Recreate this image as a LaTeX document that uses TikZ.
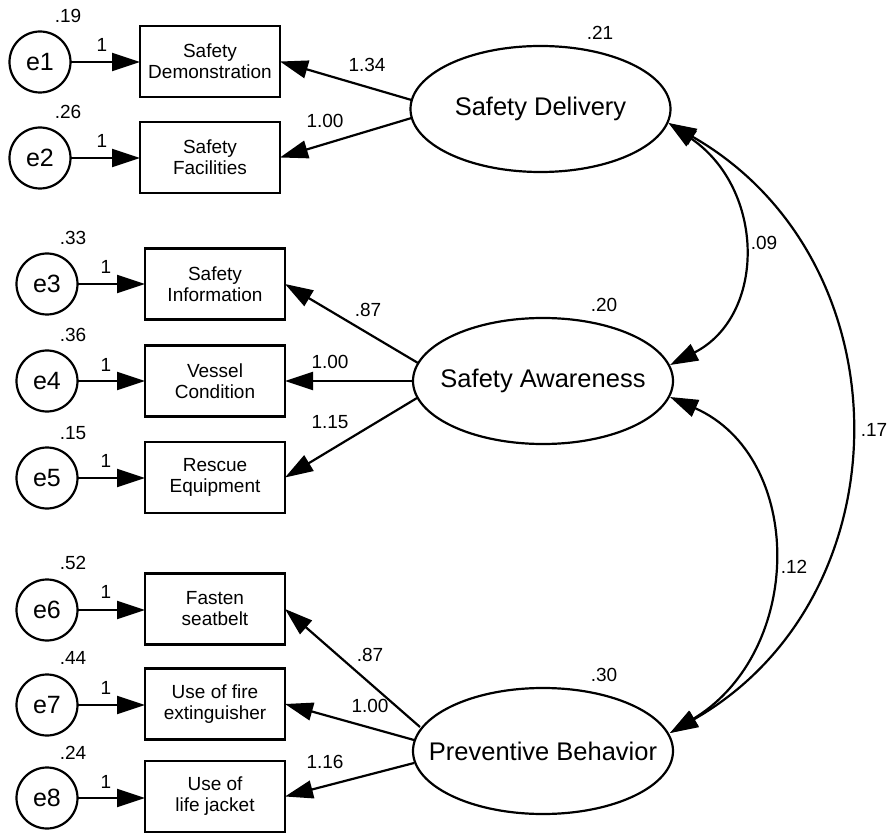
\documentclass[tikz,border=0pt]{standalone}
\usepackage{fontspec}
\setmainfont{Liberation Sans}
\usetikzlibrary{shapes.geometric,arrows.meta,calc}
\begin{document}
\begin{tikzpicture}[x=1pt,y=-1pt,
  every node/.style={inner sep=0pt, outer sep=0pt},
  obs/.style={draw, line width=2.4pt, minimum width=140pt, minimum height=71pt, align=center, font=\fontsize{19}{21}\selectfont},
  err/.style={draw, circle, line width=2.2pt, minimum size=61pt, font=\fontsize{25}{28}\selectfont},
  lat/.style={draw, ellipse, line width=2.2pt, minimum width=260pt, minimum height=126pt},
  latfont/.style={font=\fontsize{25.5}{28}\selectfont},
  num/.style={font=\fontsize{19}{21}\selectfont},
  tipT/.tip={Triangle[length=28pt,width=18pt]},
  arr/.style={line width=2.2pt, -tipT},
  cov/.style={line width=2.2pt, tipT-tipT}
]
\useasboundingbox (0,0) rectangle (892,834);

% latent variables
\node[lat, label={[latfont]center:Safety Delivery}] (SD) at (540.5,109) {};
\node[lat, label={[latfont]center:Safety Awareness}] (SA) at (543,381) {};
\node[lat, label={[latfont]center:Preventive Behavior}] (PB) at (543,751) {};

% observed variables
\node[obs] (b1) at (210,61.5) {Safety\\Demonstration};
\node[obs] (b2) at (210,157.5) {Safety\\Facilities};
\node[obs] (b3) at (215,284) {Safety\\Information};
\node[obs] (b4) at (215,381) {Vessel\\Condition};
\node[obs] (b5) at (215,477.5) {Rescue\\Equipment};
\node[obs] (b6) at (215,609) {Fasten\\seatbelt};
\node[obs] (b7) at (215,704) {Use of fire\\extinguisher};
\node[obs] (b8) at (215,796.5) {Use of\\life jacket};

% error terms
\node[err] (e1) at (40,62) {e1};
\node[err] (e2) at (40,158) {e2};
\node[err] (e3) at (47,284) {e3};
\node[err] (e4) at (47,381) {e4};
\node[err] (e5) at (47,478) {e5};
\node[err] (e6) at (47,610) {e6};
\node[err] (e7) at (47,705) {e7};
\node[err] (e8) at (47,798) {e8};

% error arrows
\foreach \e/\b in {e1/b1,e2/b2,e3/b3,e4/b4,e5/b5,e6/b6,e7/b7,e8/b8}
  \draw[arr] (\e.east) -- (\e.east -| \b.west);

% error variances and fixed paths
\node[num] (v1) at (68,16) {.19};
\node[num] (v2) at (68,112) {.26};
\node[num] (v3) at (73,238) {.33};
\node[num] (v4) at (73,335) {.36};
\node[num] (v5) at (73,433) {.15};
\node[num] (v6) at (73,563) {.52};
\node[num] (v7) at (73,658) {.44};
\node[num] (v8) at (73,753) {.24};
\node[num] (f1) at (102,45) {1};
\node[num] (f2) at (102,141) {1};
\node[num] (f3) at (106,267) {1};
\node[num] (f4) at (106,365) {1};
\node[num] (f5) at (106,461) {1};
\node[num] (f6) at (106,592) {1};
\node[num] (f7) at (106,688) {1};
\node[num] (f8) at (106,782) {1};

% latent variances
\node[num] (r1) at (600,33) {.21};
\node[num] (r2) at (604,305) {.20};
\node[num] (r3) at (604,675) {.30};

% loadings
\draw[arr] ($(SD.west)+(1,-9)$) -- (b1.east);
\draw[arr] ($(SD.west)+(1,9)$) -- (b2.east);
\draw[arr] ($(SA.west)+(5,-18)$) -- (b3.east);
\draw[arr] (SA.west) -- (b4.east);
\draw[arr] ($(SA.west)+(4,17)$) -- (b5.east);
\draw[arr] ($(PB.west)+(7,-24)$) -- (b6.east);
\draw[arr] ($(PB.west)+(1,-11)$) -- (b7.east);
\draw[arr] ($(PB.west)+(1,12)$) -- (b8.east);

\node[num] (l1) at (367,65) {1.34};
\node[num] (l2) at (325,121) {1.00};
\node[num] (l3) at (368,310) {.87};
\node[num] (l4) at (330,362) {1.00};
\node[num] (l5) at (330,422) {1.15};
\node[num] (l6) at (370,655) {.87};
\node[num] (l7) at (370,706) {1.00};
\node[num] (l8) at (325,762) {1.16};

% covariances
\draw[cov] ($(SD.east)+(-2,14)$) .. controls (766,190) and (766,316) .. ($(SA.east)+(-3,-16)$);
\draw[cov] ($(SA.east)+(-3,16)$) .. controls (805,457) and (805,651) .. ($(PB.east)+(-3,-18)$);
\draw[cov] ($(SD.east)+(-2,14)$) .. controls (908,260) and (908,597) .. ($(PB.east)+(-3,-18)$);

\node[num] (c1) at (764,243) {.09};
\node[num] (c2) at (794,567) {.12};
\node[num] (c3) at (874,430) {.17};
\end{tikzpicture}
\end{document}
